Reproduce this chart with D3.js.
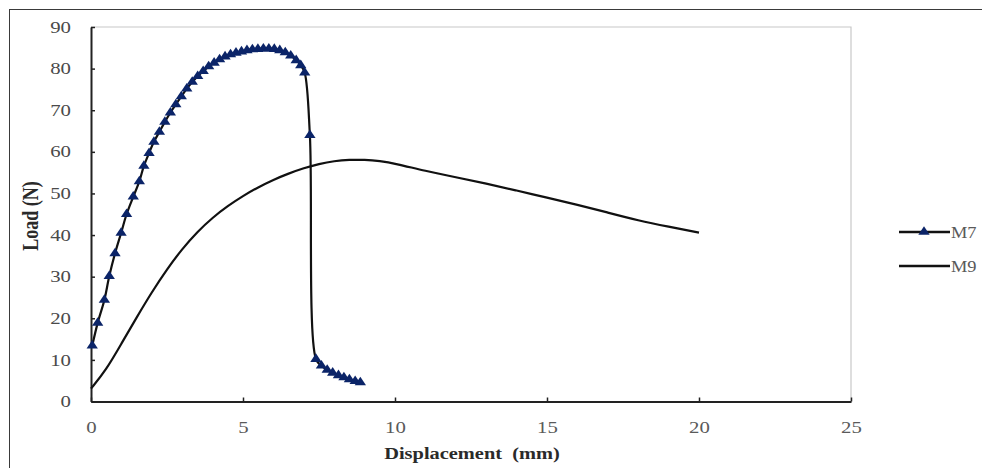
<!DOCTYPE html>
<html>
<head>
<meta charset="utf-8">
<script src="https://cdn.jsdelivr.net/npm/d3@7"></script>
<style>
  body { margin: 0; background: #fff; }
  svg { display: block; }
</style>
</head>
<body>
<svg id="chart"></svg>
<script>
// M7 series (triangles) - displacement (mm) / load (N)
const m7X = [0.04, 0.22, 0.44, 0.60, 0.79, 0.99, 1.17, 1.39, 1.59, 1.74, 1.91, 2.07, 2.25,
  2.43, 2.61, 2.79, 2.97, 3.15, 3.33, 3.51, 3.69, 3.87, 4.05, 4.23, 4.41, 4.59, 4.77,
  4.95, 5.13, 5.31, 5.49, 5.67, 5.85, 6.03, 6.21, 6.39, 6.57, 6.75, 6.90, 7.03, 7.20,
  7.40, 7.58, 7.77, 7.95, 8.14, 8.32, 8.50, 8.69, 8.86];
const m7Y = [13.4, 18.9, 24.4, 30.1, 35.6, 40.5, 45.0, 49.2, 52.9, 56.6, 59.7, 62.4, 64.8,
  67.2, 69.4, 71.4, 73.3, 75.2, 76.8, 78.2, 79.4, 80.5, 81.4, 82.2, 82.9, 83.4, 83.8,
  84.1, 84.4, 84.6, 84.7, 84.8, 84.8, 84.7, 84.4, 83.9, 83.1, 82.0, 80.8, 79.0, 64.0,
  10.2, 8.6, 7.6, 6.9, 6.3, 5.8, 5.3, 4.9, 4.6];

// M9 series (plain line)
const m9X = [0, 0.5, 1, 1.5, 2, 2.5, 3, 3.5, 4, 4.5, 5, 5.5, 6, 6.5, 7, 7.5, 8, 8.5, 9, 9.5,
  10, 11, 12, 13, 14, 15, 16, 17, 18, 19, 20];
const m9Y = [3.1, 7.6, 13.9, 20.2, 26.3, 31.8, 36.7, 40.8, 44.2, 47.0, 49.4, 51.5, 53.3, 54.8,
  56.1, 57.1, 57.8, 58.1, 58.1, 57.8, 57.2, 55.4, 53.9, 52.4, 50.7, 49.0, 47.3, 45.4,
  43.5, 42.0, 40.6];

const xTicks = [0, 5, 10, 15, 20, 25];
const yTicks = [0, 10, 20, 30, 40, 50, 60, 70, 80, 90];
const seriesNames = ["M7", "M9"];

const width = 982, height = 468;
const navy = "#0b2468";
const serif = "'Liberation Serif', 'Times New Roman', serif";
const sx = 1.3; // the reference is stretched horizontally

const svg = d3.select("#chart")
  .attr("width", width)
  .attr("height", height)
  .attr("viewBox", [0, 0, width, height]);

// outer frame
svg.append("rect")
  .attr("x", 9.5).attr("y", 9.5)
  .attr("width", 1000).attr("height", 500)
  .attr("fill", "#fff")
  .attr("stroke", "#3a3a3a")
  .attr("stroke-width", 1);

const xScale = d3.scaleLinear().domain([0, 25]).range([91, 851]);
const yScale = d3.scaleLinear().domain([0, 90]).range([401.5, 27]);

// plot area border (light gray, top and right)
svg.append("path")
  .attr("d", `M${xScale(0)},${yScale(90)}H${xScale(25)}V${yScale(0)}`)
  .attr("fill", "none")
  .attr("stroke", "#c8c8c8")
  .attr("stroke-width", 1.2);

function stretchText(sel) {
  sel.each(function () {
    const t = d3.select(this);
    const x = +t.attr("x") || 0, y = +t.attr("y") || 0;
    t.attr("x", 0).attr("y", 0)
      .attr("transform", `translate(${x},${y}) scale(${sx},1)`);
  });
}

// x axis
const gx = svg.append("g")
  .attr("transform", `translate(0,${yScale(0)})`)
  .call(d3.axisBottom(xScale).tickValues(xTicks).tickSizeInner(-4).tickSizeOuter(0).tickPadding(20));
gx.select(".domain").attr("stroke", "#222").attr("stroke-width", 2);
gx.selectAll(".tick line").attr("stroke", "#222").attr("stroke-width", 1.5);
gx.selectAll(".tick text")
  .attr("font-family", serif).attr("font-size", 16).attr("fill", "#5a5a5a");
stretchText(gx.selectAll(".tick text"));

// y axis
const gy = svg.append("g")
  .attr("transform", `translate(${xScale(0)},0)`)
  .call(d3.axisLeft(yScale).tickValues(yTicks).tickSizeInner(-4).tickSizeOuter(0).tickPadding(20));
gy.select(".domain").attr("stroke", "#222").attr("stroke-width", 2);
gy.selectAll(".tick line").attr("stroke", "#222").attr("stroke-width", 1.5);
gy.selectAll(".tick text")
  .attr("font-family", serif).attr("font-size", 16).attr("fill", "#4a4a4a");
stretchText(gy.selectAll(".tick text"));

// axis titles
svg.append("text")
  .attr("transform", `translate(472,459) scale(1.2,1)`)
  .attr("text-anchor", "middle")
  .attr("font-family", serif).attr("font-size", 17).attr("font-weight", "bold")
  .attr("fill", "#2a2a2a")
  .text("Displacement\u00a0 (mm)");

svg.append("text")
  .attr("transform", `translate(38,216) scale(${sx},1) rotate(-90)`)
  .attr("text-anchor", "middle")
  .attr("font-family", serif).attr("font-size", 18).attr("font-weight", "bold")
  .attr("fill", "#2a2a2a")
  .text("Load (N)");

// lines
const m7 = m7X.map((x, i) => [x, m7Y[i]]);
const m9 = m9X.map((x, i) => [x, m9Y[i]]);

const line7 = d3.line()
  .x(d => xScale(d[0]))
  .y(d => yScale(d[1]))
  .curve(d3.curveCatmullRom.alpha(0.5));

const line9 = d3.line()
  .x(d => xScale(d[0]))
  .y(d => yScale(d[1]))
  .curve(d3.curveBasis);

svg.append("path")
  .datum(m9)
  .attr("d", line9)
  .attr("fill", "none")
  .attr("stroke", "#111")
  .attr("stroke-width", 2.2);

svg.append("path")
  .datum(m7)
  .attr("d", line7)
  .attr("fill", "none")
  .attr("stroke", "#111")
  .attr("stroke-width", 2.2);

const tri = d3.symbol(d3.symbolTriangle, 42);
svg.append("g")
  .selectAll("path")
  .data(m7)
  .join("path")
  .attr("transform", d => `translate(${xScale(d[0])},${yScale(d[1])}) scale(1.15,1)`)
  .attr("d", tri)
  .attr("fill", navy);

// legend
const legend = svg.append("g");
seriesNames.forEach((name, i) => {
  const y = 232 + i * 34;
  legend.append("line")
    .attr("x1", 899).attr("x2", 950)
    .attr("y1", y).attr("y2", y)
    .attr("stroke", "#111").attr("stroke-width", 2.4);
  if (name === "M7") {
    legend.append("path")
      .attr("transform", `translate(924,${y}) scale(1.15,1)`)
      .attr("d", tri)
      .attr("fill", navy);
  }
  legend.append("text")
    .attr("transform", `translate(951,${y + 5.5}) scale(1.15,1)`)
    .attr("font-family", serif).attr("font-size", 16).attr("fill", "#5a5a5a")
    .text(name);
});
</script>
</body>
</html>
